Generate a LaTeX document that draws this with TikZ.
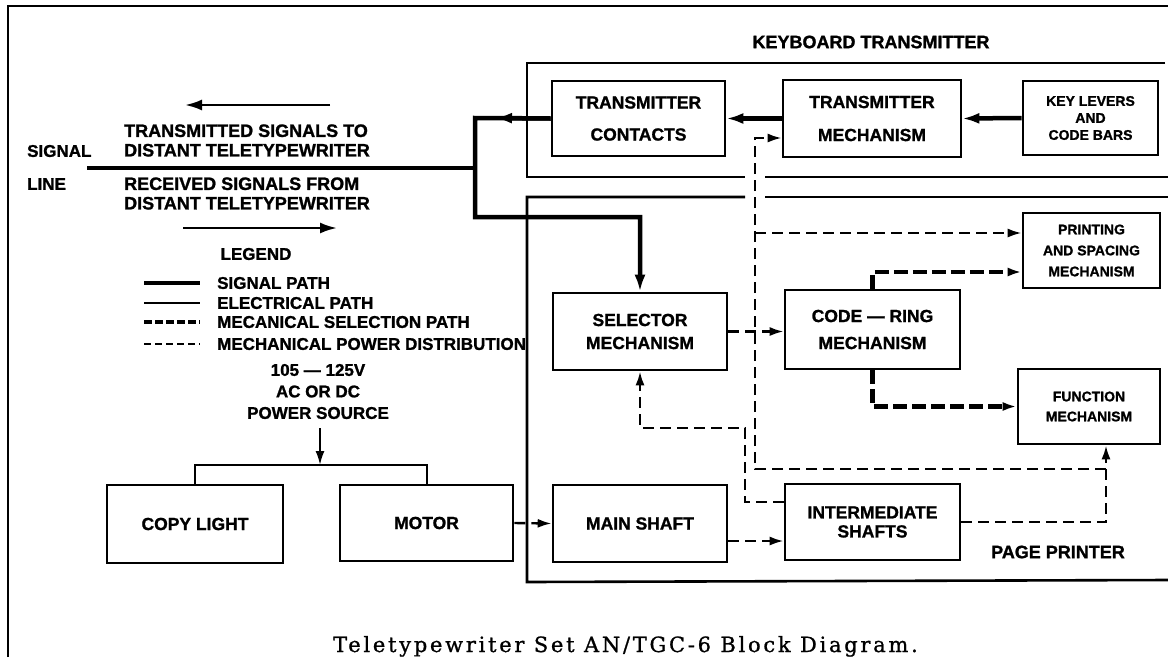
\documentclass[tikz,border=0pt]{standalone}
\usepackage{fontspec}
\setsansfont{Liberation Sans}[BoldFeatures={FakeBold=1.2}]
\newfontfamily\capfont{DejaVu Serif}[LetterSpace=13, FakeBold=1]
\usetikzlibrary{arrows.meta, positioning, calc}

\begin{document}
\begin{tikzpicture}[
    x=1pt, y=-1pt,
    blk/.style={
      rectangle, draw, line width=2.6pt, inner sep=0pt, align=center,
      font=\sffamily\bfseries\fontsize{17.5}{20}\selectfont
    },
    smallblk/.style={blk, font=\sffamily\bfseries\fontsize{14}{17}\selectfont},
    lbl/.style={font=\sffamily\bfseries\fontsize{17}{21.5}\selectfont, align=center, inner sep=0pt},
    sigtxt/.style={lbl, anchor=west, align=left, font=\sffamily\bfseries\fontsize{18}{19.5}\selectfont},
    frame/.style={line width=2.6pt},
    sig/.style={line width=4.5pt},
    elec/.style={line width=2pt},
    sel/.style={line width=4.5pt, dash pattern=on 14pt off 5pt},
    pwr/.style={line width=2.4pt, dash pattern=on 11pt off 6pt},
    tip/.style={-{Latex[length=14pt, width=9pt]}},
    bigtip/.style={-{Latex[length=17pt, width=11pt]}},
  ]
  \useasboundingbox (0,0) rectangle (1168,657);

  % outer frame and the two unit outlines (open to the right)
  \draw[frame] (8,657) -- (8,6) -- (1168,6);
  \draw[frame] (1165,63) -- (527,63) -- (527,177) -- (745,177);
  \draw[frame] (765,177) -- (1168,177);
  \draw[frame] (745,197) -- (527,197) -- (527,582) -- (1168,580);
  \draw[frame] (765,197) -- (1168,197);

  \node[lbl, font=\sffamily\bfseries\fontsize{18}{20}\selectfont] (kbdlbl) at (871,42) {KEYBOARD TRANSMITTER};
  \node[lbl, font=\sffamily\bfseries\fontsize{18}{20}\selectfont] (pplbl) at (1058,552) {PAGE PRINTER};

  % keyboard transmitter blocks
  \node[blk, minimum width=173pt, minimum height=75pt] (contacts) at (638.5,118.5) {TRANSMITTER\\[12pt]CONTACTS};
  \node[blk, minimum width=178pt, minimum height=77pt] (txmech) at (872,118.5) {TRANSMITTER\\[13pt]MECHANISM};
  \node[smallblk, minimum width=135pt, minimum height=74pt] (keys) at (1090.5,118) {KEY LEVERS\\AND\\CODE BARS};

  % page printer blocks
  \node[smallblk, minimum width=137pt, minimum height=75pt] (printing) at (1091.5,250.5) {PRINTING\\[4pt]AND SPACING\\[4pt]MECHANISM};
  \node[blk, minimum width=174pt, minimum height=77pt] (selector) at (640,331.5) {SELECTOR\\[3pt]MECHANISM};
  \node[blk, minimum width=175pt, minimum height=79pt] (codering) at (872.5,329.5) {CODE — RING\\[7pt]MECHANISM};
  \node[smallblk, minimum width=142pt, minimum height=75pt] (function) at (1089,406.5) {FUNCTION\\[3pt]MECHANISM};
  \node[blk, minimum width=174pt, minimum height=77pt] (mainshaft) at (640,523.5) {MAIN SHAFT};
  \node[blk, minimum width=175pt, minimum height=76pt] (intermed) at (872.5,522) {INTERMEDIATE\\[-1pt]SHAFTS};

  % power supply blocks
  \node[blk, minimum width=176pt, minimum height=78pt] (copylight) at (195,524) {COPY LIGHT};
  \node[blk, minimum width=173pt, minimum height=76pt] (motor) at (426.5,523) {MOTOR};
  \node[lbl] (source) at (318,391.5) {105 — 125V\\AC OR DC\\POWER SOURCE};

  % signal line texts
  \node[lbl, anchor=west] (signal) at (27,151) {SIGNAL};
  \node[lbl, anchor=west] (line) at (27,184) {LINE};
  \node[sigtxt] (txtxt) at (124,140.5) {TRANSMITTED SIGNALS TO\\DISTANT TELETYPEWRITER};
  \node[sigtxt] (rxtxt) at (124,193.5) {RECEIVED SIGNALS FROM\\DISTANT TELETYPEWRITER};
  \coordinate (txa) at (330,105);
  \coordinate (txb) at (185,105);
  \coordinate (rxa) at (183,228);
  \coordinate (rxb) at (337,228);
  \draw[elec, line width=2.5pt, bigtip] (txa) -- (txb);
  \draw[elec, line width=2.5pt, bigtip] (rxa) -- (rxb);

  % legend
  \node[lbl] (legend) at (256,254) {LEGEND};
  \draw[sig] (144,283) -- (200,283);
  \draw[elec] (144,303) -- (200,303);
  \draw[line width=4pt, dash pattern=on 8pt off 3pt] (144,322) -- (200,322);
  \draw[elec, dash pattern=on 7pt off 4pt] (144,344) -- (200,344);
  \node[lbl, anchor=west] (lsig) at (217,283) {SIGNAL PATH};
  \node[lbl, anchor=west] (lelec) at (217,303) {ELECTRICAL PATH};
  \node[lbl, anchor=west] (lsel) at (217,322) {MECANICAL SELECTION PATH};
  \node[lbl, anchor=west] (lpwr) at (217,344) {MECHANICAL POWER DISTRIBUTION};

  % signal path
  \coordinate (sigend) at (87,168);
  \coordinate (junc) at (475,168);
  \coordinate (jtop) at (475,118);
  \coordinate (jbot) at (475,217);
  \draw[sig] (sigend) -- (junc);
  \draw[sig, bigtip] (contacts.west) -- ($(jtop)+(20,0)$);
  \draw[sig, bigtip] (contacts.west) -- (jtop) -- (jbot) -| (selector.north);
  \draw[sig, bigtip] (keys.west) -- (txmech.east);
  \draw[sig, bigtip] (txmech.west) -- (contacts.east);

  % electrical path
  \coordinate (srcfoot) at (320,428);
  \coordinate (bus) at (320,465);
  \draw[elec, tip] (srcfoot) -- (bus);
  \draw[elec] (copylight.north) |- (bus) -| (motor.north);

  % mechanical power distribution
  \coordinate (pj) at (1106,469);
  \coordinate (pv) at (755,469);
  \coordinate (pp) at (755,233);
  \coordinate (sa) at (745,428);
  \coordinate (txin) at ([yshift=-19.5pt]txmech.west);
  \coordinate (imin) at ([yshift=20pt]intermed.west);
  \coordinate (msout) at ([yshift=-17.5pt]mainshaft.east);
  \draw[pwr, tip] (intermed.east) -| ($(function.south)+(17,0)$);
  \draw[pwr, tip] (pj) -- (pv) |- (txin);
  \draw[pwr, tip] (pp) -- (pp -| printing.west);
  \draw[pwr, tip] (imin) -| (sa) -| (selector.south);
  \draw[pwr, tip] (motor.east) -- (mainshaft.west);
  \draw[pwr, tip] (msout) -- (msout -| intermed.west);
  \draw[pwr, tip] (selector.east) -- (selector.east -| codering.west);

  % mechanical selection
  \coordinate (prin) at ([yshift=-21.5pt]printing.west);
  \draw[sel, tip] (codering.north) |- (prin);
  \draw[sel, tip] (codering.south) |- (function.west);

  \node[anchor=base west, inner sep=0pt, font=\capfont\fontsize{21}{23}\selectfont] (caption) at (333,652)
    {Teletypewriter Set AN/TGC-6 Block Diagram.};

\end{tikzpicture}
\end{document}
